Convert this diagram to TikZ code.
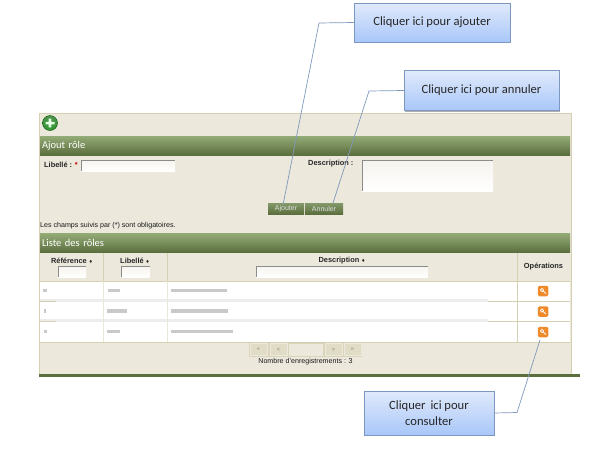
\documentclass[tikz,border=0pt]{standalone}
\usepackage{fontspec}
\setmainfont{Liberation Sans}
\newfontfamily\notefont{Carlito}
\newfontfamily\symfont{DejaVu Sans}
\usetikzlibrary{shadows}
\definecolor{paneltan}{HTML}{ECE8DC}
\definecolor{panelline}{HTML}{D6D0B2}
\definecolor{bartop}{HTML}{93AB76}
\definecolor{barlow}{HTML}{5B6E3E}
\definecolor{notetop}{HTML}{E0EAFB}
\definecolor{notelow}{HTML}{A9C7F9}
\definecolor{noteline}{HTML}{7C98C0}
\definecolor{leadline}{HTML}{7F99BC}
\definecolor{keyorange}{HTML}{EE8A2A}
\newcommand{\sortmark}{{\symfont\fontsize{4.5}{4.5}\selectfont ♦}}
\begin{document}
\begin{tikzpicture}[x=1pt,y=-1pt,
  notebox/.style={draw=noteline,top color=notetop,bottom color=notelow,align=center,
    font=\notefont\fontsize{12.6}{15.5}\selectfont,text=black!85,inner sep=0pt,
    drop shadow={shadow xshift=0.8pt,shadow yshift=-1.2pt,opacity=.45,fill=black!70}},
  leader/.style={draw=leadline,line width=0.7pt},
  headbar/.style={top color=bartop,bottom color=barlow,minimum width=530pt,minimum height=19pt,
    inner sep=0pt,text width=526pt,text=white,font=\notefont\fontsize{10.5}{12}\selectfont},
  okbtn/.style={top color=bartop!90!black,bottom color=barlow,minimum height=11pt,inner sep=0pt,
    text=white!88!black,font=\fontsize{7}{8}\selectfont},
  field/.style={top color=paneltan!50,bottom color=white,inner sep=0pt},
  lbl/.style={font=\bfseries\fontsize{7.4}{8}\selectfont,text=black!85,inner sep=0pt},
  small/.style={font=\fontsize{7.1}{8}\selectfont,text=black!90,inner sep=0pt},
  pagebtn/.style={fill=panelline!75,draw=paneltan,minimum width=17pt,minimum height=12pt,
    inner sep=0pt,text=black!50,font=\fontsize{5.5}{6}\selectfont},
  keybtn/.style={fill=keyorange,rounded corners=1.5pt,minimum size=10.5pt,inner sep=0pt},
  blur/.style={draw=black!50,line width=3.6pt,opacity=.42}]

  \useasboundingbox (0,0) rectangle (609,463);

  % panel
  \fill[paneltan] (39,113) rectangle (571,375);
  \draw[panelline,line width=1pt] (39,375) -- (39,113) -- (571,113) -- (571,375);
  \fill[barlow] (39,374) rectangle (580,376.5);

  % toolbar icon
  \node[circle,top color=black!60!green!70,bottom color=green!50!black!80,draw=black!70!green,
    minimum size=15pt,inner sep=0pt] (addicon) at (50,123) {};
  \fill[white!90!green] (45.5,121.8) rectangle (54.5,124.4) (48.7,118.6) rectangle (51.3,127.4);

  % form
  \node[headbar] (formbar) at (305,145.5) {Ajout rôle};
  \node[lbl,anchor=west] (namelbl) at (44,165) {Libellé : \textcolor{red!75!black}{*}};
  \node[field,minimum width=94pt,minimum height=11pt] (namefield) at (128,165.5) {};
  \draw[black!45] (namefield.south west) -- (namefield.north west) -- (namefield.north east);
  \node[lbl,anchor=west] (desclbl) at (308,164) {Description :};
  \node[field,minimum width=131pt,minimum height=31pt] (descfield) at (427.5,175.5) {};
  \draw[black!45] (descfield.south west) -- (descfield.north west) -- (descfield.north east);
  \node[okbtn,minimum width=36pt] (addbtn) at (286,208.5) {Ajouter};
  \node[okbtn,minimum width=38pt] (cancelbtn) at (324,208.5) {Annuler};
  \node[small,anchor=west] (mandatory) at (40,226) {Les champs suivis par (*) sont obligatoires.};

  % table
  \node[headbar] (listbar) at (305,243) {Liste des rôles};
  \fill[white] (40,281) rectangle (570,342);
  \foreach \ypos in {301.5,321.5} {
    \fill[black!7] (40,\ypos-3) rectangle (488,\ypos);
    \draw[panelline] (488,\ypos) -- (570,\ypos);
    \draw[panelline] (40,\ypos) -- (56,\ypos);
  }
  \draw[panelline] (40,281) -- (570,281) (40,342.5) -- (570,342.5);
  \draw[panelline] (103.5,253) -- (103.5,281) (167.5,253) -- (167.5,281);
  \foreach \xpos in {103.5,167.5} \draw[panelline!50,line width=1pt] (\xpos,281) -- (\xpos,342);
  \draw[panelline] (517.5,253) -- (517.5,342);

  \node[lbl] (refhead) at (72,260.5) {Référence \sortmark};
  \node[lbl] (namehead) at (135,260.5) {Libellé \sortmark};
  \node[lbl] (deschead) at (342,260.5) {Description \sortmark};
  \node[lbl] (opshead) at (543.5,267) {Opérations};
  \node[field,minimum width=28pt,minimum height=11pt] (reffilter) at (72,271.5) {};
  \node[field,minimum width=28pt,minimum height=11pt] (namefilter) at (135.5,271.5) {};
  \node[field,minimum width=172pt,minimum height=11pt] (descfilter) at (342,271.5) {};
  \foreach \f in {reffilter,namefilter,descfilter}
    \draw[black!45] (\f.south west) -- (\f.north west) -- (\f.north east);

  % blurred rows
  \draw[blur] (43,290.5) -- (47,290.5) (108,290.5) -- (120,290.5) (171,290.5) -- (227,290.5);
  \draw[blur] (44,311) -- (46,311) (107,311) -- (127,311) (171,311) -- (228,311);
  \draw[blur] (44,331.5) -- (47,331.5) (107,331.5) -- (120,331.5) (171,331.5) -- (233,331.5);

  % operations
  \foreach \n/\ypos in {a/291,b/311.5,c/332} {
    \node[keybtn] (key\n) at (543,\ypos) {};
    \draw[white,line width=0.8pt] (542,\ypos-1) circle (1.6pt) (543,\ypos) -- (546,\ypos+2.5);
  }

  % pager
  \fill[panelline!90] (249,343) rectangle (362,356.5);
  \foreach \n/\xpos/\sign in {first/258.5/<<,prev/278.5/<,next/333.5/>,last/352.5/>>}
    \node[pagebtn] (\n) at (\xpos,349.5) {\sign};
  \node[fill=paneltan,minimum width=34pt,minimum height=12pt,inner sep=0pt] (pageno) at (306,349.5) {};
  \node[small] (total) at (305.5,361.5) {Nombre d'enregistrements : 3};

  % callouts
  \node[notebox,minimum width=156pt,minimum height=39pt] (addnote) at (432,22.5) {Cliquer ici pour ajouter};
  \node[notebox,minimum width=155pt,minimum height=40pt] (cancelnote) at (481.5,90.5) {Cliquer ici pour annuler};
  \node[notebox,minimum width=130pt,minimum height=44pt] (viewnote) at (429,413) {Cliquer\, ici pour\\consulter};

  \coordinate (addbend) at (319,23);
  \coordinate (addend) at (283,205);
  \coordinate (cancelbend) at (369,91);
  \coordinate (cancelend) at (333,203);
  \coordinate (viewbend) at (517,412.5);
  \coordinate (viewend) at (540,340);
  \draw[leader] (addnote.west) -- (addbend) -- (addend);
  \draw[leader] (cancelnote.west) -- (cancelbend) -- (cancelend);
  \draw[leader] (viewnote.east) -- (viewbend) -- (viewend);
\end{tikzpicture}
\end{document}
